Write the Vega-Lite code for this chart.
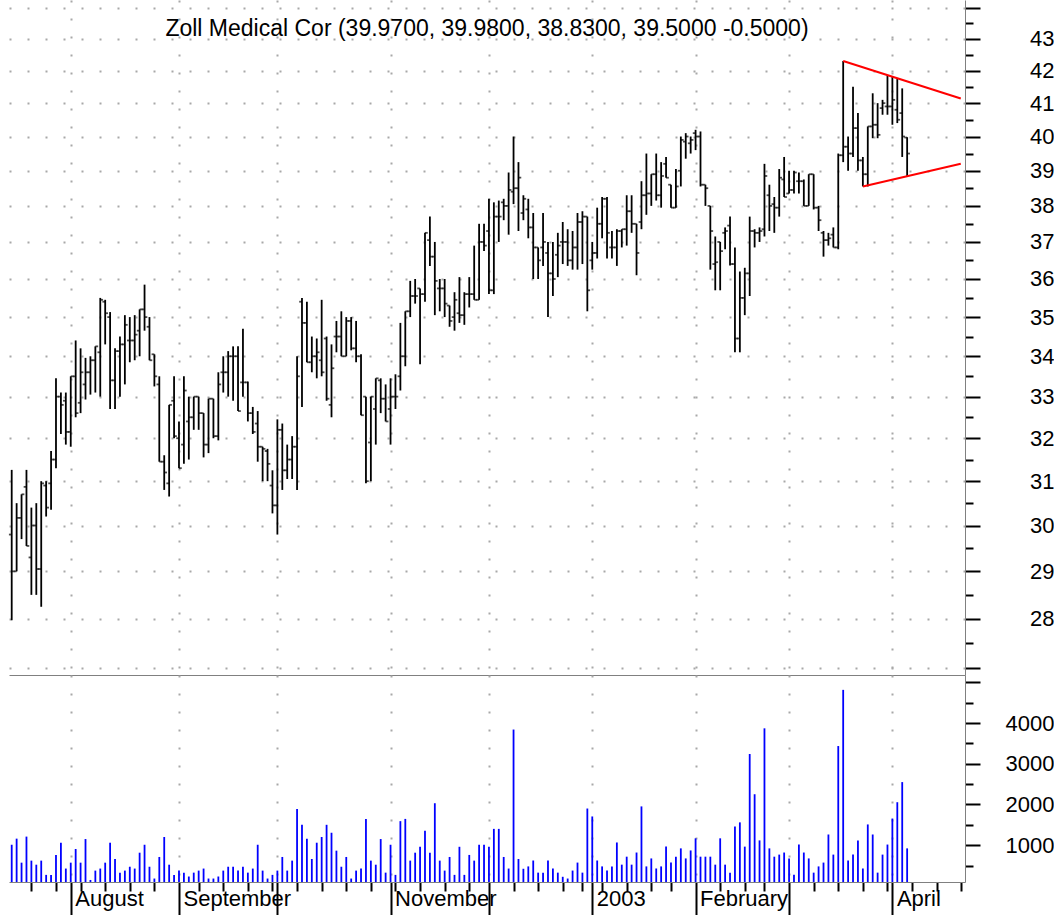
{
"$schema": "https://vega.github.io/schema/vega-lite/v6.json",
"background": "white",
"padding": {"left": 8, "top": 0, "right": 0, "bottom": 0},
"config": {"view": {"stroke": null}, "font": "Liberation Sans"},
"spacing": 0,
"bounds": "flush",
"datasets": {
"bars": [
{"i":0,"o":29.8,"h":31.26,"l":27.97,"c":29.0,"v":1010},
{"i":1,"o":29.0,"h":30.5,"l":29.0,"c":30.17,"v":1160},
{"i":2,"o":30.17,"h":30.7,"l":29.7,"c":30.7,"v":570},
{"i":3,"o":30.87,"h":31.26,"l":29.55,"c":29.55,"v":1210},
{"i":4,"o":29.3,"h":30.4,"l":28.5,"c":30.0,"v":620},
{"i":5,"o":30.0,"h":30.5,"l":28.5,"c":29.05,"v":520},
{"i":6,"o":29.05,"h":31.0,"l":28.25,"c":30.95,"v":620},
{"i":7,"o":30.9,"h":31.0,"l":30.2,"c":30.4,"v":270},
{"i":8,"o":30.95,"h":31.7,"l":30.35,"c":31.5,"v":270},
{"i":9,"o":31.5,"h":33.45,"l":31.3,"c":33.0,"v":760},
{"i":10,"o":33.0,"h":33.1,"l":32.1,"c":32.8,"v":1060},
{"i":11,"o":32.9,"h":33.1,"l":31.85,"c":32.15,"v":425},
{"i":12,"o":32.15,"h":33.5,"l":31.8,"c":33.5,"v":570},
{"i":13,"o":33.5,"h":34.4,"l":32.5,"c":32.6,"v":905},
{"i":14,"o":32.85,"h":34.2,"l":32.6,"c":33.6,"v":570},
{"i":15,"o":33.3,"h":33.96,"l":32.93,"c":33.6,"v":1150},
{"i":16,"o":33.6,"h":34.0,"l":33.05,"c":33.9,"v":145},
{"i":17,"o":33.9,"h":34.25,"l":33.1,"c":34.25,"v":375},
{"i":18,"o":34.1,"h":35.5,"l":33.0,"c":35.45,"v":425},
{"i":19,"o":35.4,"h":35.45,"l":34.3,"c":35.1,"v":570},
{"i":20,"o":35.0,"h":35.13,"l":32.7,"c":33.4,"v":1060},
{"i":21,"o":33.4,"h":34.2,"l":32.7,"c":34.13,"v":660},
{"i":22,"o":34.13,"h":34.5,"l":33.0,"c":34.3,"v":325},
{"i":23,"o":34.3,"h":35.05,"l":33.3,"c":34.8,"v":375},
{"i":24,"o":34.4,"h":35.0,"l":33.85,"c":34.4,"v":470},
{"i":25,"o":34.4,"h":35.05,"l":33.9,"c":34.55,"v":425},
{"i":26,"o":34.65,"h":35.2,"l":34.0,"c":35.2,"v":815},
{"i":27,"o":35.2,"h":35.85,"l":34.65,"c":35.0,"v":1010},
{"i":28,"o":34.75,"h":35.0,"l":33.9,"c":33.9,"v":470},
{"i":29,"o":34.05,"h":34.05,"l":33.25,"c":33.5,"v":180},
{"i":30,"o":33.3,"h":33.5,"l":31.45,"c":31.45,"v":710},
{"i":31,"o":31.45,"h":31.6,"l":30.8,"c":31.2,"v":1200},
{"i":32,"o":30.95,"h":32.8,"l":30.65,"c":32.8,"v":520},
{"i":33,"o":32.9,"h":33.5,"l":32.0,"c":32.05,"v":270},
{"i":34,"o":32.0,"h":32.4,"l":31.3,"c":31.3,"v":375},
{"i":35,"o":31.85,"h":33.5,"l":31.4,"c":33.15,"v":325},
{"i":36,"o":32.4,"h":33.0,"l":31.5,"c":32.5,"v":230},
{"i":37,"o":32.5,"h":33.0,"l":32.2,"c":33.0,"v":325},
{"i":38,"o":33.0,"h":33.0,"l":32.2,"c":32.6,"v":375},
{"i":39,"o":32.6,"h":32.6,"l":31.55,"c":31.85,"v":425},
{"i":40,"o":31.85,"h":32.95,"l":31.65,"c":32.95,"v":180},
{"i":41,"o":32.95,"h":32.95,"l":32.0,"c":32.05,"v":180},
{"i":42,"o":32.05,"h":33.6,"l":31.95,"c":33.3,"v":230},
{"i":43,"o":33.6,"h":34.0,"l":33.1,"c":33.6,"v":375},
{"i":44,"o":33.6,"h":34.13,"l":33.0,"c":34.0,"v":470},
{"i":45,"o":34.0,"h":34.25,"l":32.9,"c":34.0,"v":470},
{"i":46,"o":34.0,"h":34.25,"l":32.65,"c":32.65,"v":375},
{"i":47,"o":33.35,"h":34.7,"l":33.0,"c":33.35,"v":470},
{"i":48,"o":33.35,"h":33.37,"l":32.4,"c":32.6,"v":325},
{"i":49,"o":32.6,"h":32.75,"l":32.1,"c":32.15,"v":425},
{"i":50,"o":32.35,"h":32.65,"l":31.45,"c":31.8,"v":1010},
{"i":51,"o":31.8,"h":31.8,"l":31.0,"c":31.75,"v":375},
{"i":52,"o":31.7,"h":31.75,"l":31.0,"c":31.4,"v":180},
{"i":53,"o":30.9,"h":31.25,"l":30.27,"c":30.45,"v":270},
{"i":54,"o":30.45,"h":32.45,"l":29.8,"c":32.2,"v":375},
{"i":55,"o":32.2,"h":32.35,"l":30.8,"c":31.25,"v":710},
{"i":56,"o":31.25,"h":31.85,"l":31.05,"c":31.5,"v":375},
{"i":57,"o":31.5,"h":32.05,"l":31.05,"c":31.8,"v":620},
{"i":58,"o":31.8,"h":34.0,"l":30.8,"c":33.5,"v":1890},
{"i":59,"o":35.4,"h":35.5,"l":32.75,"c":34.85,"v":1500},
{"i":60,"o":34.85,"h":35.4,"l":33.85,"c":33.85,"v":1160},
{"i":61,"o":33.85,"h":34.5,"l":33.6,"c":34.0,"v":660},
{"i":62,"o":34.0,"h":34.45,"l":33.45,"c":34.1,"v":1060},
{"i":63,"o":33.9,"h":35.45,"l":33.5,"c":33.6,"v":1200},
{"i":64,"o":34.45,"h":34.5,"l":32.9,"c":32.95,"v":1500},
{"i":65,"o":32.8,"h":34.3,"l":32.5,"c":33.7,"v":1305},
{"i":66,"o":34.5,"h":34.9,"l":34.1,"c":34.5,"v":865},
{"i":67,"o":34.5,"h":35.15,"l":34.0,"c":34.0,"v":470},
{"i":68,"o":34.0,"h":35.0,"l":34.0,"c":34.9,"v":710},
{"i":69,"o":34.9,"h":35.0,"l":34.15,"c":34.2,"v":180},
{"i":70,"o":34.2,"h":34.9,"l":33.85,"c":34.0,"v":375},
{"i":71,"o":34.0,"h":34.05,"l":32.55,"c":32.55,"v":425},
{"i":72,"o":33.0,"h":33.0,"l":30.95,"c":31.0,"v":1645},
{"i":73,"o":31.9,"h":33.0,"l":31.0,"c":33.0,"v":620},
{"i":74,"o":32.7,"h":33.45,"l":31.85,"c":33.45,"v":520},
{"i":75,"o":33.4,"h":33.45,"l":32.6,"c":32.95,"v":1150},
{"i":76,"o":32.95,"h":33.3,"l":32.4,"c":32.4,"v":325},
{"i":77,"o":32.7,"h":33.45,"l":31.85,"c":33.0,"v":1010},
{"i":78,"o":33.0,"h":33.55,"l":32.7,"c":33.0,"v":270},
{"i":79,"o":33.5,"h":34.85,"l":33.15,"c":34.0,"v":1590},
{"i":80,"o":34.0,"h":35.15,"l":33.75,"c":35.15,"v":1645},
{"i":81,"o":35.15,"h":35.95,"l":35.0,"c":35.55,"v":620},
{"i":82,"o":35.55,"h":36.0,"l":35.35,"c":35.55,"v":815},
{"i":83,"o":35.75,"h":35.75,"l":33.8,"c":35.6,"v":960},
{"i":84,"o":35.6,"h":37.25,"l":35.4,"c":37.25,"v":1355},
{"i":85,"o":37.05,"h":37.7,"l":36.35,"c":36.6,"v":815},
{"i":86,"o":36.6,"h":37.0,"l":35.05,"c":35.95,"v":2030},
{"i":87,"o":35.75,"h":36.0,"l":35.15,"c":35.75,"v":620},
{"i":88,"o":35.75,"h":36.0,"l":35.0,"c":35.35,"v":375},
{"i":89,"o":35.3,"h":35.3,"l":34.75,"c":34.9,"v":710},
{"i":90,"o":35.0,"h":35.65,"l":34.65,"c":35.45,"v":270},
{"i":91,"o":35.1,"h":36.05,"l":34.85,"c":35.05,"v":960},
{"i":92,"o":35.05,"h":35.65,"l":34.8,"c":35.6,"v":270},
{"i":93,"o":35.6,"h":36.05,"l":35.25,"c":35.6,"v":760},
{"i":94,"o":35.6,"h":36.9,"l":35.45,"c":35.45,"v":620},
{"i":95,"o":35.45,"h":37.5,"l":35.45,"c":37.0,"v":1010},
{"i":96,"o":37.0,"h":37.5,"l":36.75,"c":36.9,"v":1010},
{"i":97,"o":37.3,"h":38.2,"l":35.6,"c":35.7,"v":960},
{"i":98,"o":35.7,"h":38.1,"l":35.6,"c":37.7,"v":1400},
{"i":99,"o":37.7,"h":38.15,"l":37.0,"c":37.7,"v":1400},
{"i":100,"o":38.1,"h":38.2,"l":37.6,"c":38.0,"v":710},
{"i":101,"o":38.0,"h":38.95,"l":37.2,"c":38.45,"v":425},
{"i":102,"o":38.4,"h":40.0,"l":38.05,"c":38.5,"v":3840},
{"i":103,"o":38.5,"h":39.25,"l":37.3,"c":38.8,"v":660},
{"i":104,"o":37.8,"h":38.3,"l":37.6,"c":38.2,"v":420},
{"i":105,"o":37.9,"h":38.2,"l":37.1,"c":37.4,"v":478},
{"i":106,"o":37.4,"h":37.8,"l":36.0,"c":36.85,"v":623},
{"i":107,"o":36.85,"h":36.85,"l":36.0,"c":36.5,"v":325},
{"i":108,"o":36.85,"h":37.8,"l":36.35,"c":37.0,"v":325},
{"i":109,"o":36.7,"h":37.0,"l":35.0,"c":36.15,"v":623},
{"i":110,"o":36.15,"h":37.0,"l":35.55,"c":36.0,"v":427},
{"i":111,"o":36.65,"h":37.25,"l":36.05,"c":36.9,"v":325},
{"i":112,"o":37.0,"h":37.55,"l":36.4,"c":37.0,"v":223},
{"i":113,"o":37.0,"h":37.35,"l":36.35,"c":36.5,"v":180},
{"i":114,"o":36.5,"h":37.3,"l":36.25,"c":36.85,"v":376},
{"i":115,"o":36.85,"h":37.8,"l":36.25,"c":37.55,"v":572},
{"i":116,"o":37.55,"h":37.85,"l":36.4,"c":37.7,"v":325},
{"i":117,"o":37.7,"h":37.7,"l":35.15,"c":35.7,"v":1900},
{"i":118,"o":36.5,"h":37.0,"l":36.25,"c":36.7,"v":1705},
{"i":119,"o":36.7,"h":37.95,"l":36.55,"c":37.5,"v":623},
{"i":120,"o":37.5,"h":38.25,"l":37.1,"c":38.2,"v":478},
{"i":121,"o":38.2,"h":38.25,"l":36.55,"c":37.25,"v":376},
{"i":122,"o":36.85,"h":37.3,"l":36.55,"c":36.85,"v":478},
{"i":123,"o":36.85,"h":37.35,"l":36.35,"c":37.3,"v":1066},
{"i":124,"o":37.3,"h":37.35,"l":36.85,"c":37.35,"v":521},
{"i":125,"o":37.35,"h":38.3,"l":36.9,"c":37.85,"v":717},
{"i":126,"o":37.85,"h":38.3,"l":37.25,"c":37.5,"v":521},
{"i":127,"o":37.5,"h":37.5,"l":36.1,"c":36.7,"v":819},
{"i":128,"o":37.55,"h":38.7,"l":37.35,"c":38.3,"v":1952},
{"i":129,"o":38.3,"h":39.5,"l":37.75,"c":38.35,"v":478},
{"i":130,"o":38.35,"h":38.9,"l":38.0,"c":38.9,"v":674},
{"i":131,"o":38.9,"h":39.5,"l":38.15,"c":38.3,"v":427},
{"i":132,"o":38.3,"h":39.25,"l":37.95,"c":38.85,"v":478},
{"i":133,"o":39.2,"h":39.4,"l":38.8,"c":38.8,"v":964},
{"i":134,"o":38.6,"h":38.6,"l":37.95,"c":37.95,"v":572},
{"i":135,"o":37.95,"h":39.05,"l":37.95,"c":38.55,"v":717},
{"i":136,"o":39.0,"h":40.0,"l":38.55,"c":39.9,"v":921},
{"i":137,"o":39.85,"h":40.1,"l":39.35,"c":40.0,"v":674},
{"i":138,"o":39.8,"h":40.0,"l":39.5,"c":39.9,"v":870},
{"i":139,"o":40.1,"h":40.2,"l":39.6,"c":40.0,"v":1168},
{"i":140,"o":40.0,"h":40.15,"l":38.55,"c":38.6,"v":717},
{"i":141,"o":38.6,"h":38.6,"l":38.0,"c":38.5,"v":717},
{"i":142,"o":38.0,"h":38.0,"l":36.25,"c":37.3,"v":717},
{"i":143,"o":36.4,"h":37.15,"l":35.7,"c":36.45,"v":521},
{"i":144,"o":37.0,"h":37.0,"l":35.7,"c":36.75,"v":1168},
{"i":145,"o":37.25,"h":37.4,"l":36.8,"c":37.3,"v":521},
{"i":146,"o":37.45,"h":37.7,"l":36.36,"c":36.4,"v":325},
{"i":147,"o":36.4,"h":36.85,"l":34.1,"c":34.45,"v":1458},
{"i":148,"o":34.45,"h":36.2,"l":34.1,"c":35.5,"v":1560},
{"i":149,"o":35.5,"h":36.3,"l":35.05,"c":36.15,"v":964},
{"i":150,"o":36.15,"h":37.7,"l":35.55,"c":37.3,"v":3239},
{"i":151,"o":37.3,"h":37.35,"l":36.85,"c":37.25,"v":2251},
{"i":152,"o":37.25,"h":37.4,"l":37.0,"c":37.3,"v":1117},
{"i":153,"o":37.35,"h":39.2,"l":37.15,"c":38.85,"v":3870},
{"i":154,"o":38.3,"h":38.6,"l":37.3,"c":38.0,"v":921},
{"i":155,"o":38.05,"h":38.25,"l":37.25,"c":37.95,"v":717},
{"i":156,"o":37.95,"h":39.05,"l":37.7,"c":38.8,"v":768},
{"i":157,"o":38.75,"h":39.4,"l":38.25,"c":38.25,"v":819},
{"i":158,"o":38.35,"h":39.0,"l":38.35,"c":38.45,"v":674},
{"i":159,"o":38.45,"h":39.0,"l":38.35,"c":38.95,"v":274},
{"i":160,"o":38.7,"h":38.95,"l":38.35,"c":38.7,"v":1015},
{"i":161,"o":38.7,"h":38.75,"l":38.0,"c":38.0,"v":819},
{"i":162,"o":38.0,"h":38.9,"l":38.0,"c":38.9,"v":674},
{"i":163,"o":38.9,"h":38.9,"l":37.9,"c":37.95,"v":325},
{"i":164,"o":37.95,"h":38.0,"l":37.3,"c":37.6,"v":478},
{"i":165,"o":37.25,"h":37.3,"l":36.6,"c":37.05,"v":572},
{"i":166,"o":37.05,"h":37.25,"l":36.9,"c":37.1,"v":1262},
{"i":167,"o":37.2,"h":37.4,"l":36.85,"c":36.85,"v":768},
{"i":168,"o":36.85,"h":39.5,"l":36.8,"c":39.45,"v":3435},
{"i":169,"o":39.45,"h":42.3,"l":39.25,"c":39.7,"v":4815},
{"i":170,"o":39.7,"h":40.0,"l":39.0,"c":39.5,"v":623},
{"i":171,"o":39.5,"h":41.5,"l":39.4,"c":40.25,"v":768},
{"i":172,"o":40.25,"h":40.7,"l":39.0,"c":39.3,"v":1117},
{"i":173,"o":39.3,"h":39.4,"l":38.55,"c":38.9,"v":427},
{"i":174,"o":38.9,"h":40.3,"l":38.55,"c":40.3,"v":1509},
{"i":175,"o":40.3,"h":41.3,"l":39.95,"c":40.35,"v":1262},
{"i":176,"o":40.35,"h":41.0,"l":39.95,"c":40.05,"v":325},
{"i":177,"o":40.85,"h":41.1,"l":40.65,"c":41.0,"v":768},
{"i":178,"o":40.9,"h":41.85,"l":40.65,"c":40.9,"v":1015},
{"i":179,"o":40.9,"h":41.8,"l":40.35,"c":41.1,"v":1654},
{"i":180,"o":40.8,"h":41.75,"l":40.4,"c":40.5,"v":2055},
{"i":181,"o":40.7,"h":41.45,"l":39.4,"c":40.0,"v":2549},
{"i":182,"o":39.97,"h":39.98,"l":38.83,"c":39.5,"v":921}
],
"tri": [
{"seg":"upper","i":169,"p":42.3},
{"seg":"upper","i":192.9,"p":41.14},
{"seg":"lower","i":173,"p":38.55},
{"seg":"lower","i":192.9,"p":39.2}
],
"head": [
{"t":"Zoll Medical Cor (39.9700, 39.9800, 38.8300, 39.5000 -0.5000)"}
]
},
"vconcat": [
{
"width": 956,
"height": 675,
"layer": [
{
"data": {"name": "bars"},
"mark": {"type": "rule", "color": "black", "strokeWidth": 1.8},
"encoding": {
"x": {"field": "i", "type": "quantitative", "scale": {"domain": [-0.55, 193.76], "nice": false, "zero": false},
"axis": {"orient": "bottom", "title": null, "values": [12,34,54,77,97,118,139,158,179], "ticks": false, "labels": false, "domain": true, "domainColor": "#808080", "domainWidth": 1, "grid": true, "gridDash": [2,16], "gridColor": "#a8a8a8", "gridWidth": 2}},
"y": {"field": "l", "type": "quantitative", "scale": {"type": "log", "domain": [26.86, 44.25], "nice": false, "zero": false},
"axis": {"orient": "right", "title": null,
"values": [27,27.5,28,28.5,29,29.5,30,30.5,31,31.5,32,32.5,33,33.5,34,34.5,35,35.5,36,36.5,37,37.5,38,38.5,39,39.5,40,40.5,41,41.5,42,42.5,43,43.5,44],
"labelExpr": "(datum.value % 1 == 0 && datum.value >= 28 && datum.value <= 43) ? datum.label : ''",
"labelFontSize": {"condition": {"test": "datum.value % 1 == 0 && datum.value >= 28 && datum.value <= 43", "value": 22}, "value": 0},
"tickSize": {"condition": {"test": "datum.value % 1 == 0", "value": 15}, "value": 8},
"tickColor": "black", "tickWidth": 2,
"domainColor": "#808080", "domainWidth": 1,
"grid": true, "gridDash": [2,16], "gridColor": "#a8a8a8", "gridWidth": 2,
"gridOpacity": {"condition": {"test": "datum.value % 1 == 0", "value": 1}, "value": 0},
"labelAlign": "right", "labelPadding": 74, "labelFont": "Liberation Sans", "labelColor": "black",
"labelOverlap": false, "labelBound": false, "labelFlush": false}},
"y2": {"field": "h"}
}
},
{
"data": {"name": "bars"},
"mark": {"type": "tick", "orient": "horizontal", "color": "black", "size": 2.8, "thickness": 1.8, "xOffset": -1.4},
"encoding": {
"x": {"field": "i", "type": "quantitative"},
"y": {"field": "o", "type": "quantitative"}
}
},
{
"data": {"name": "bars"},
"mark": {"type": "tick", "orient": "horizontal", "color": "black", "size": 2.8, "thickness": 1.8, "xOffset": 1.4},
"encoding": {
"x": {"field": "i", "type": "quantitative"},
"y": {"field": "c", "type": "quantitative"}
}
},
{
"data": {"name": "tri"},
"mark": {"type": "line", "color": "#ff0000", "strokeWidth": 2},
"encoding": {
"x": {"field": "i", "type": "quantitative"},
"y": {"field": "p", "type": "quantitative"},
"detail": {"field": "seg"}
}
},
{
"data": {"name": "head"},
"mark": {"type": "text", "fontSize": 23, "font": "Liberation Sans", "color": "black", "align": "center", "baseline": "alphabetic"},
"encoding": {
"x": {"datum": 96.6, "type": "quantitative"},
"y": {"datum": 43.09, "type": "quantitative"},
"text": {"field": "t"}
}
}
]
},
{
"width": 956,
"height": 207,
"data": {"name": "bars"},
"mark": {"type": "rule", "color": "#0000ff", "strokeWidth": 1.8},
"encoding": {
"x": {"field": "i", "type": "quantitative", "scale": {"domain": [-0.55, 193.76], "nice": false, "zero": false},
"axis": {"orient": "bottom", "title": null,
"values": [4,9,12,14,19,24,29,34,38,43,48,53,54,58,63,68,73,77,78,83,88,93,97,102,107,112,116,118,120,125,130,134,139,144,149,153,158,163,168,173,178,179,183,188,193],
"labelExpr": "datum.value == 12 ? 'August' : datum.value == 34 ? 'September' : datum.value == 77 ? 'November' : datum.value == 118 ? '2003' : datum.value == 139 ? 'February' : datum.value == 179 ? 'April' : ''",
"tickSize": {"condition": {"test": "indexof([12,34,54,77,97,118,139,158,179], datum.value) >= 0", "value": 40}, "value": 9},
"tickColor": "black", "tickWidth": 2,
"domainColor": "#808080", "domainWidth": 1,
"grid": true, "gridDash": [2,16], "gridColor": "#a8a8a8", "gridWidth": 2,
"gridOpacity": {"condition": {"test": "indexof([12,34,54,77,97,118,139,158,179], datum.value) >= 0", "value": 1}, "value": 0},
"labelAlign": "left", "labelBaseline": "top", "labelOffset": 4, "labelPadding": -34,
"labelFontSize": 22, "labelFont": "Liberation Sans", "labelColor": "black",
"labelOverlap": false, "labelBound": false, "labelFlush": false}},
"y": {"field": "v", "type": "quantitative", "scale": {"domain": [95, 5180], "nice": false, "zero": false},
"axis": {"orient": "right", "title": null,
"values": [500,1000,1500,2000,2500,3000,3500,4000,4500,5000],
"labelExpr": "(datum.value % 1000 == 0 && datum.value <= 4000) ? datum.label : ''",
"labelFontSize": {"condition": {"test": "datum.value % 1000 == 0 && datum.value <= 4000", "value": 22}, "value": 0},
"format": "d",
"tickSize": {"condition": {"test": "datum.value % 1000 == 0", "value": 15}, "value": 8},
"tickColor": "black", "tickWidth": 2,
"domainColor": "#808080", "domainWidth": 1,
"grid": false,
"labelAlign": "right", "labelPadding": 74, "labelFont": "Liberation Sans", "labelColor": "black",
"labelOverlap": false, "labelBound": false, "labelFlush": false}},
"y2": {"datum": 95}
}
}
]
}
